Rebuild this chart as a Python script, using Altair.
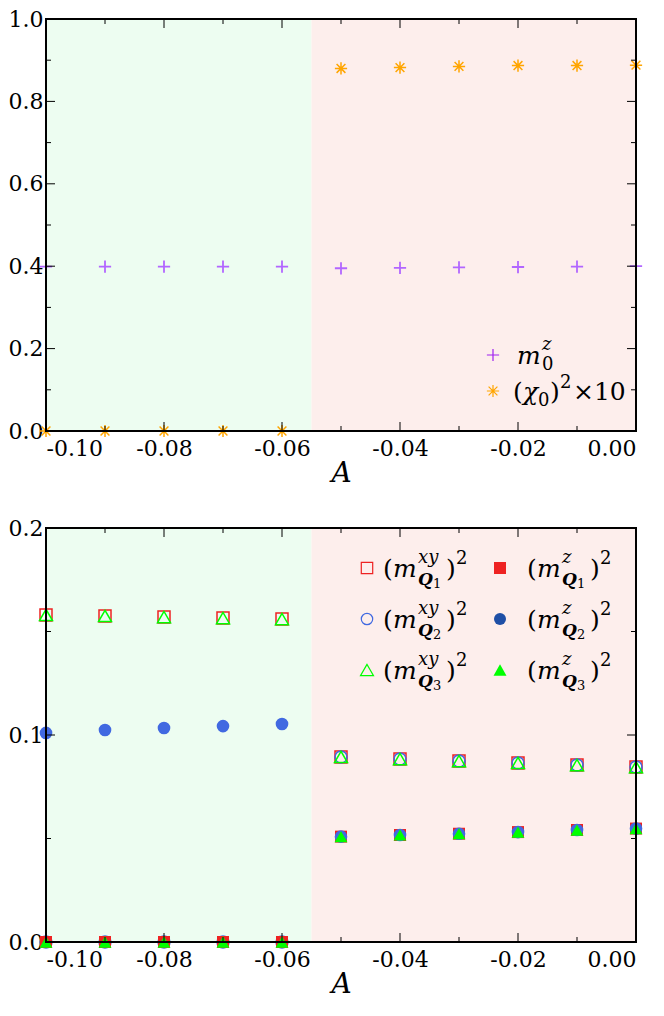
import altair as alt
import pandas as pd

FONT = "DejaVu Serif"

# ---------------- data ----------------
A_vals = [-0.10, -0.09, -0.08, -0.07, -0.06, -0.05, -0.04, -0.03, -0.02, -0.01, 0.00]

# top panel
m0z = [0.399, 0.399, 0.399, 0.399, 0.399, 0.395, 0.396, 0.397, 0.398, 0.399, 0.400]
chi_sq_x10 = [0.0, 0.0, 0.0, 0.0, 0.0, 0.880, 0.882, 0.885, 0.887, 0.887, 0.888]

# bottom panel
mxy_Q1 = [0.1580, 0.1575, 0.1570, 0.1565, 0.1560, 0.0894, 0.0884, 0.0874, 0.0865, 0.0855, 0.0845]
mxy_Q2 = [0.0, 0.0, 0.0, 0.0, 0.0, 0.0894, 0.0884, 0.0874, 0.0865, 0.0855, 0.0845]
mxy_Q3 = [0.1580, 0.1575, 0.1570, 0.1565, 0.1560, 0.0894, 0.0884, 0.0874, 0.0865, 0.0855, 0.0845]
mz_Q1 = [0.0, 0.0, 0.0, 0.0, 0.0, 0.0509, 0.0517, 0.0523, 0.0531, 0.0541, 0.0548]
mz_Q2 = [0.1010, 0.1024, 0.1034, 0.1043, 0.1053, 0.0509, 0.0517, 0.0523, 0.0531, 0.0541, 0.0548]
mz_Q3 = [0.0, 0.0, 0.0, 0.0, 0.0, 0.0509, 0.0517, 0.0523, 0.0531, 0.0541, 0.0548]

# phase regions
region_start = [-0.10, -0.055]
region_end = [-0.055, 0.00]
region_color = ["#edfdf1", "#fdeeec"]

# ticks
x_major = [-0.10, -0.08, -0.06, -0.04, -0.02, 0.00]
x_minor = [-0.09, -0.07, -0.05, -0.03, -0.01]
top_y_major = [0.0, 0.2, 0.4, 0.6, 0.8, 1.0]
top_y_minor = [0.1, 0.3, 0.5, 0.7, 0.9]
bot_y_major = [0.0, 0.1, 0.2]
bot_y_minor = [0.05, 0.15]

# ---------------- styling ----------------
W = 590
H_TOP = 412
H_BOT = 414
LBL = 22
PURPLE = "#b266ff"
ORANGE = "#ffa500"
RED = "#ee2222"
BLUE = "#4169e1"
BLUE_LEG = "#1f4fa6"
GREEN = "#00ff00"
PLUS = "M-1,0L1,0M0,-1L0,1"
STAR = "M-1,0L1,0M0,-1L0,1M-0.72,-0.72L0.72,0.72M-0.72,0.72L0.72,-0.72"

one = pd.DataFrame({"k": [0]})

XAXIS = alt.Axis(values=x_major, ticks=False, domain=False, grid=False,
                 labelExpr="replace(format(datum.value, '.2f'), '\u2212', '-')",
                 title="A", labelPadding=7, titlePadding=0,
                 labelFont=FONT, labelFontSize=LBL, labelColor="black",
                 titleFont=FONT, titleFontSize=28, titleFontStyle="italic",
                 titleFontWeight="normal", titleColor="black")


def yaxis(vals):
    return alt.Axis(values=vals, format=".1f", ticks=False, domain=False,
                    grid=False, title=None, labelPadding=3,
                    labelFont=FONT, labelFontSize=LBL, labelColor="black")


def txt(s, x, y, size, style="normal", weight="normal"):
    return alt.Chart(one).mark_text(
        align="left", baseline="alphabetic", font=FONT, fontSize=size,
        fontStyle=style, fontWeight=weight, color="black"
    ).encode(x=alt.value(x), y=alt.value(y), text=alt.value(s))


def legmark(x, y, **kw):
    return alt.Chart(one).mark_point(opacity=1, **kw).encode(x=alt.value(x), y=alt.value(y))


def ticks(xs, ys, H, ymaj, ymin):
    layers = []
    ya = yaxis(ymaj)
    for vals, ln in ((x_major, 9), (x_minor, 5)):
        d = pd.DataFrame({"v": vals})
        layers.append(alt.Chart(d).mark_rule(color="black", strokeWidth=1).encode(
            x=alt.X("v:Q", scale=xs, axis=XAXIS), y=alt.value(H), y2=alt.value(H - ln)))
        layers.append(alt.Chart(d).mark_rule(color="black", strokeWidth=1).encode(
            x=alt.X("v:Q", scale=xs, axis=XAXIS), y=alt.value(0), y2=alt.value(ln)))
    for vals, ln in ((ymaj, 9), (ymin, 5)):
        d = pd.DataFrame({"v": vals})
        layers.append(alt.Chart(d).mark_rule(color="black", strokeWidth=1).encode(
            y=alt.Y("v:Q", scale=ys, axis=ya), x=alt.value(0), x2=alt.value(ln)))
        layers.append(alt.Chart(d).mark_rule(color="black", strokeWidth=1).encode(
            y=alt.Y("v:Q", scale=ys, axis=ya), x=alt.value(W), x2=alt.value(W - ln)))
    return layers


def background(xs, H):
    d = pd.DataFrame({"x0": region_start, "x1": region_end, "c": region_color})
    return alt.Chart(d).mark_rect().encode(
        x=alt.X("x0:Q", scale=xs, axis=XAXIS), x2="x1:Q",
        y=alt.value(0), y2=alt.value(H),
        color=alt.Color("c:N", scale=None))


def frame(H):
    return alt.Chart(one).mark_rect(filled=False, stroke="black", strokeWidth=2, fill=None).encode(
        x=alt.value(0), x2=alt.value(W), y=alt.value(0), y2=alt.value(H))


# ---------------- top panel ----------------
xs = alt.Scale(domain=[-0.10, 0.00], nice=False, zero=False)
ys_top = alt.Scale(domain=[0, 1], nice=False, zero=False)
top_df = pd.DataFrame({"A": A_vals, "m0z": m0z, "chi": chi_sq_x10})
YA_TOP = yaxis(top_y_major)

top_layers = [background(xs, H_TOP)]
top_layers.append(
    alt.Chart(top_df).mark_point(shape=PLUS, filled=False, size=150, strokeWidth=1.8,
                                 color=PURPLE, opacity=1).encode(
        x=alt.X("A:Q", scale=xs, axis=XAXIS),
        y=alt.Y("m0z:Q", scale=ys_top, axis=YA_TOP)))
top_layers.append(
    alt.Chart(top_df).mark_point(shape=STAR, filled=False, size=150, strokeWidth=1.5,
                                 color=ORANGE, opacity=1).encode(
        x=alt.X("A:Q", scale=xs, axis=XAXIS), y=alt.Y("chi:Q", scale=ys_top, axis=YA_TOP)))
top_layers += ticks(xs, ys_top, H_TOP, top_y_major, top_y_minor)
top_layers.append(frame(H_TOP))

# top legend
r1, r2 = 336, 372
top_layers.append(legmark(447, r1, shape=PLUS, filled=False, size=150, strokeWidth=1.2, color="#a020f0"))
top_layers.append(legmark(447, r2, shape=STAR, filled=False, size=150, strokeWidth=1.2, color=ORANGE))
top_layers += [
    txt("m", 471, r1 + 9, 25, "italic"),
    txt("z", 496, r1 - 5, 18, "italic"),
    txt("0", 496, r1 + 15, 18),
    txt("(", 467, r2 + 9, 25),
    txt("χ", 477, r2 + 9, 25, "italic"),
    txt("0", 492, r2 + 15, 18),
    txt(")", 504, r2 + 9, 25),
    txt("2", 514, r2 - 3, 18),
    txt("×10", 527, r2 + 9, 25),
]
top = alt.layer(*top_layers).properties(width=W, height=H_TOP)

# ---------------- bottom panel ----------------
ys_bot = alt.Scale(domain=[0, 0.2], nice=False, zero=False)
YA_BOT = yaxis(bot_y_major)
bot_df = pd.DataFrame({"A": A_vals, "xy1": mxy_Q1, "xy2": mxy_Q2, "xy3": mxy_Q3,
                       "z1": mz_Q1, "z2": mz_Q2, "z3": mz_Q3})

bot_layers = [background(xs, H_BOT)]
series = [
    ("xy1", dict(shape="square", filled=False, size=144, strokeWidth=1.5, color=RED)),
    ("xy2", dict(shape="circle", filled=False, size=144, strokeWidth=1.5, color=BLUE)),
    ("xy3", dict(shape="triangle-up", filled=False, size=169, strokeWidth=1.5, color=GREEN)),
    ("z1", dict(shape="square", filled=True, size=144, color=RED)),
    ("z2", dict(shape="circle", filled=True, size=160, color=BLUE)),
    ("z3", dict(shape="triangle-up", filled=True, size=169, color=GREEN)),
]
for col, kw in series:
    bot_layers.append(alt.Chart(bot_df).mark_point(opacity=1, **kw).encode(
        x=alt.X("A:Q", scale=xs, axis=XAXIS),
        y=alt.Y(f"{col}:Q", scale=ys_bot, axis=YA_BOT)))
bot_layers += ticks(xs, ys_bot, H_BOT, bot_y_major, bot_y_minor)
bot_layers.append(frame(H_BOT))

# bottom legend
rows = [40, 91, 142]
leg_open = [dict(shape="square", filled=False, size=130, strokeWidth=1.2, color=RED),
            dict(shape="circle", filled=False, size=130, strokeWidth=1.2, color=BLUE),
            dict(shape="triangle-up", filled=False, size=169, strokeWidth=1.2, color=GREEN)]
leg_fill = [dict(shape="square", filled=True, size=144, color=RED),
            dict(shape="circle", filled=True, size=144, color=BLUE_LEG),
            dict(shape="triangle-up", filled=True, size=169, color=GREEN)]
for k, ry in enumerate(rows):
    b = ry + 9
    n = str(k + 1)
    bot_layers.append(legmark(321, ry, **leg_open[k]))
    bot_layers += [
        txt("(", 337, b, 25),
        txt("m", 347, b, 25, "italic"),
        txt("xy", 372, b - 14, 18, "italic"),
        txt("Q", 372, b + 8, 17, "italic", "bold"),
        txt(n, 387, b + 11, 13),
        txt(")", 400, b, 25),
        txt("2", 410, b - 13, 18),
    ]
    bot_layers.append(legmark(454, ry, **leg_fill[k]))
    bot_layers += [
        txt("(", 481, b, 25),
        txt("m", 491, b, 25, "italic"),
        txt("z", 516, b - 14, 18, "italic"),
        txt("Q", 516, b + 8, 17, "italic", "bold"),
        txt(n, 531, b + 11, 13),
        txt(")", 544, b, 25),
        txt("2", 554, b - 13, 18),
    ]
bottom = alt.layer(*bot_layers).properties(width=W, height=H_BOT)

chart = alt.vconcat(top, bottom, spacing=30).properties(
    padding={"left": 0, "top": 0, "right": 0, "bottom": 0}
).configure(font=FONT).configure_view(stroke=None)

chart.save("out.html", embed_options={"renderer": "svg", "actions": False})
